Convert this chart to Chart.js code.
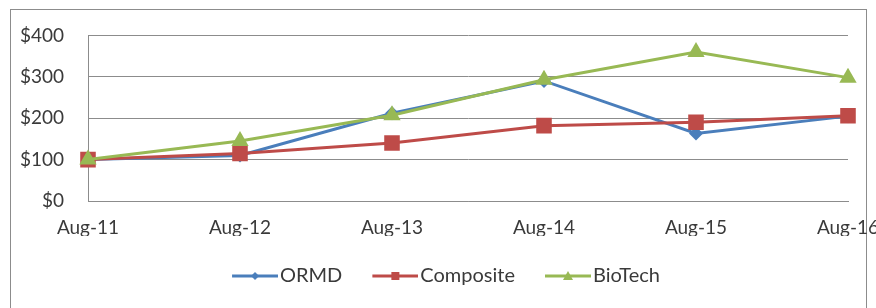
<!DOCTYPE html>
<html>
<head>
<meta charset="utf-8">
<script src="https://cdn.jsdelivr.net/npm/chart.js@4"></script>
<style>
  html, body { margin: 0; padding: 0; background: #fff; overflow: hidden; }
  #frame { position: absolute; left: 10px; top: 9px; width: 855px; height: 330px; border: 1px solid #8c8c8c; }
  #wrap { position: absolute; left: 0; top: 0; width: 900px; height: 308px; }
</style>
</head>
<body>
<div id="frame"></div>
<div id="wrap"><canvas id="chart" width="900" height="308"></canvas></div>
<script>
"use strict";

const years = ['Aug-11', 'Aug-12', 'Aug-13', 'Aug-14', 'Aug-15', 'Aug-16'];
const ormd = [100, 110, 212, 290, 163, 205];
const composite = [100, 115, 140, 182, 190, 206];
const biotech = [100, 145, 207, 293, 360, 298];
const yTicks = [0, 100, 200, 300, 400];

const BLUE = '#4a7ebb';
const RED = '#be4b48';
const GREEN = '#98b954';
const GRID = '#8c8c8c';
const TEXT = '#3a3a3a';
const FONT = 'Lato, "Open Sans", sans-serif';

// line+marker picture for each legend entry (wider than the legend box, line starts at x=8)
function legendIcon(color, shape) {
    const c = document.createElement('canvas');
    c.width = 54;
    c.height = 14;
    const ctx = c.getContext('2d');
    ctx.strokeStyle = color;
    ctx.lineWidth = 3;
    ctx.beginPath();
    ctx.moveTo(8, 7);
    ctx.lineTo(54, 7);
    ctx.stroke();
    ctx.fillStyle = color;
    ctx.beginPath();
    if (shape === 'diamond') {
        ctx.moveTo(31, 3); ctx.lineTo(35, 7); ctx.lineTo(31, 11); ctx.lineTo(27, 7);
    } else if (shape === 'square') {
        ctx.rect(27, 3, 8, 8);
    } else {
        ctx.moveTo(31, 2); ctx.lineTo(36, 11); ctx.lineTo(26, 11);
    }
    ctx.closePath();
    ctx.fill();
    return c;
}

const icons = [legendIcon(BLUE, 'diamond'), legendIcon(RED, 'square'), legendIcon(GREEN, 'triangle')];

// the legend row sits a bit right of the canvas centre in the original
const shiftLegend = {
    id: 'shiftLegend',
    afterLayout(ch) {
        if (ch.legend) {
            ch.legend.left += 44;
        }
    }
};

const chart = new Chart(document.getElementById('chart'), {
    type: 'line',
    data: {
        labels: years,
        datasets: [{
            label: 'ORMD',
            data: ormd,
            borderColor: BLUE,
            backgroundColor: BLUE,
            borderWidth: 3,
            pointStyle: 'rectRot',
            pointRadius: 7,
            pointBorderWidth: 0,
            order: 2
        }, {
            label: 'Composite',
            data: composite,
            borderColor: RED,
            backgroundColor: RED,
            borderWidth: 3,
            pointStyle: 'rect',
            pointRadius: 11,
            pointBorderWidth: 0,
            order: 1
        }, {
            label: 'BioTech',
            data: biotech,
            borderColor: GREEN,
            backgroundColor: GREEN,
            borderWidth: 3,
            pointStyle: 'triangle',
            pointRadius: 10,
            pointBorderWidth: 0,
            order: 0
        }]
    },
    plugins: [shiftLegend],
    options: {
        responsive: false,
        animation: false,
        devicePixelRatio: 1,
        layout: { padding: { top: 35, right: 52, left: 0, bottom: 12 } },
        plugins: {
            tooltip: { enabled: false },
            legend: {
                position: 'bottom',
                labels: {
                    usePointStyle: true,
                    pointStyleWidth: 38,
                    padding: 30,
                    color: TEXT,
                    font: { family: FONT, size: 20 },
                    sort: (a, b) => a.datasetIndex - b.datasetIndex,
                    generateLabels: (ch) => ch.data.datasets.map((ds, i) => ({
                        text: ds.label,
                        pointStyle: icons[i],
                        fillStyle: ds.borderColor,
                        strokeStyle: ds.borderColor,
                        lineWidth: 0,
                        fontColor: TEXT,
                        datasetIndex: i
                    }))
                }
            }
        },
        scales: {
            x: {
                offset: false,
                grid: { display: false, drawTicks: false },
                border: { display: true, color: GRID, width: 1 },
                ticks: { color: TEXT, padding: 15, maxRotation: 0, autoSkip: false, font: { family: FONT, size: 19 } },
                afterFit: (s) => { s.height = 35; }
            },
            y: {
                min: 0,
                max: 400,
                afterBuildTicks: (s) => { s.ticks = yTicks.map(v => ({ value: v })); },
                grid: { color: GRID, lineWidth: 1, drawTicks: false },
                border: { display: true, color: GRID, width: 1 },
                ticks: {
                    color: TEXT,
                    padding: 24,
                    font: { family: FONT, size: 19 },
                    callback: (v) => '$' + v
                },
                afterFit: (s) => { s.width = 88; }
            }
        }
    }
});
</script>
</body>
</html>
